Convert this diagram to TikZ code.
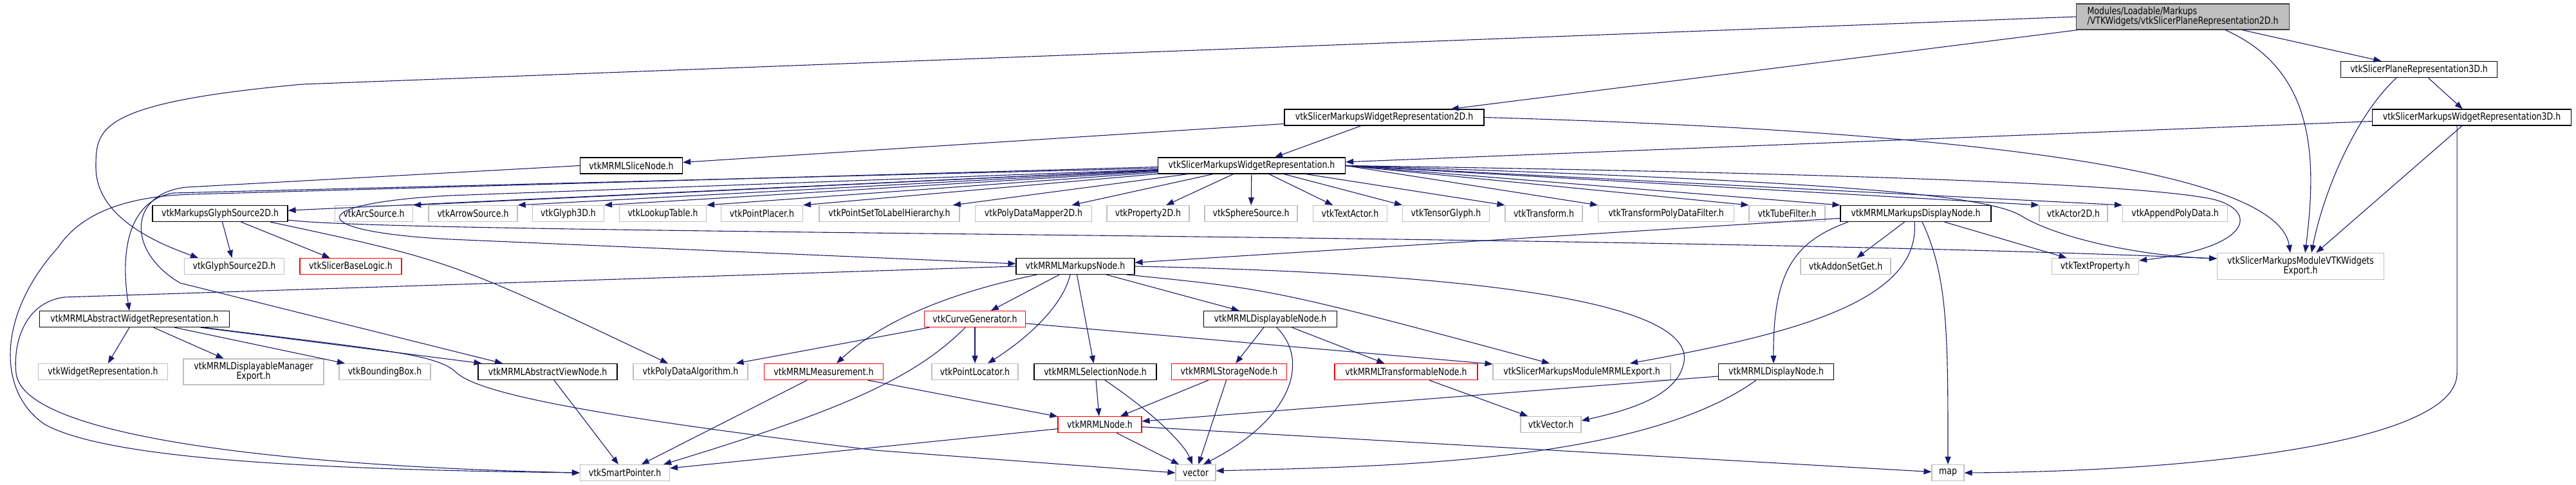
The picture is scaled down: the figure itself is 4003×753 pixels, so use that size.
\documentclass[tikz,border=0pt]{standalone}
\usepackage{fontspec}
\setmainfont{DejaVu Sans}[FakeStretch=0.82]
\usetikzlibrary{arrows.meta}
\definecolor{edgeblue}{HTML}{191970}
\definecolor{extgray}{HTML}{BFBFBF}
\definecolor{topfill}{HTML}{BFBFBF}
\tikzset{
  hdr/.style={draw=black,fill=white,line width=1.2pt,minimum height=25pt,inner sep=0pt,
    font=\fontsize{15.3}{15.5}\selectfont},
  ext/.style={hdr,draw=extgray},
  bad/.style={hdr,draw=red},
  dep/.style={draw=edgeblue,line width=1.1pt,-{Triangle[length=12pt,width=9pt]}},
}

\begin{document}
\begin{tikzpicture}[x=1pt,y=-1pt]
  \useasboundingbox (0,0) rectangle (4003,753);
  % the header itself
  \node[hdr,fill=topfill,draw=black!75,minimum width=331pt,minimum height=40pt,align=left]
    (T) at (3392,26) {Modules/Loadable/Markups\\/VTKWidgets/vtkSlicerPlaneRepresentation2D.h};
  % documented headers
  \foreach \n/\x/\y/\w/\t in {P3D/3759/108/243/vtkSlicerPlaneRepresentation3D.h,
      R2D/2151/182.5/310/vtkSlicerMarkupsWidgetRepresentation2D.h,
      R3D/3841/182.5/309/vtkSlicerMarkupsWidgetRepresentation3D.h,
      SL/981/257.5/159/vtkMRMLSliceNode.h,
      R/1945/257.5/291/vtkSlicerMarkupsWidgetRepresentation.h,
      GS2/342/332/210/vtkMarkupsGlyphSource2D.h,
      MD/2977/332/234/vtkMRMLMarkupsDisplayNode.h,
      MN/1671/414/184/vtkMRMLMarkupsNode.h,
      AWR/209/496/295/vtkMRMLAbstractWidgetRepresentation.h,
      DN/1974/496/207/vtkMRMLDisplayableNode.h,
      AVN/851/578/216/vtkMRMLAbstractViewNode.h,
      sel/1702/578/190/vtkMRMLSelectionNode.h,
      DPN/2760/578/179/vtkMRMLDisplayNode.h}
    \node[hdr,minimum width=\w pt] (\n) at (\x,\y) {\t};
  % truncated ones
  \foreach \n/\x/\y/\w/\t in {baselogic/545/414/158/vtkSlicerBaseLogic.h,
      curve/1515/496/157/vtkCurveGenerator.h,
      meas/1280/578/185/vtkMRMLMeasurement.h,
      storage/1910/578/179/vtkMRMLStorageNode.h,
      transf/2185/578/222/vtkMRMLTransformableNode.h,
      mnode/1709/660/130/vtkMRMLNode.h}
    \node[bad,minimum width=\w pt] (\n) at (\x,\y) {\t};
  % external headers
  \foreach \n/\x/\y/\w/\t in {arc/581/332/121/vtkArcSource.h,
      arrow/735/332/138/vtkArrowSource.h,
      glyph3d/883/332/111/vtkGlyph3D.h,
      lut/1030/332/135/vtkLookupTable.h,
      placer/1184/332/127/vtkPointPlacer.h,
      labelh/1382/332/218/vtkPointSetToLabelHierarchy.h,
      mapper2d/1606/332/181/vtkPolyDataMapper2D.h,
      prop2d/1784/332/128/vtkProperty2D.h,
      sphere/1944/332/144/vtkSphereSource.h,
      textactor/2098/332/115/vtkTextActor.h,
      tensor/2247/332/135/vtkTensorGlyph.h,
      transform/2399/332/120/vtkTransform.h,
      tpdf/2589/332/211/vtkTransformPolyDataFilter.h,
      tube/2777/332/118/vtkTubeFilter.h,
      actor2d/3222/332/106/vtkActor2D.h,
      append/3380/332/163/vtkAppendPolyData.h,
      gsrc/364/414/155/vtkGlyphSource2D.h,
      addon/2868/414/140/vtkAddonSetGet.h,
      textprop/3256/414/135/vtkTextProperty.h,
      widgetrep/160/578/201/vtkWidgetRepresentation.h,
      bbox/598/578/142/vtkBoundingBox.h,
      pda/1073/578/178/vtkPolyDataAlgorithm.h,
      locator/1515/578/134/vtkPointLocator.h,
      mrmlexp/2458/578/276/vtkSlicerMarkupsModuleMRMLExport.h,
      vec/2410/660/94/vtkVector.h,
      sp/971/735/139/vtkSmartPointer.h,
      vector/1858/735/62/vector,
      map/3027/735/50/map}
    \node[ext,minimum width=\w pt] (\n) at (\x,\y) {\t};
  \node[ext,minimum width=259pt,minimum height=41pt,align=center] (VE) at (3575,414)
    {vtkSlicerMarkupsModuleVTKWidgets\\Export.h};
  \node[ext,minimum width=218pt,minimum height=40pt,align=center] (dmexport) at (394,578)
    {vtkMRMLDisplayableManager\\Export.h};

  % top levels
  \draw[dep] (T) -- (P3D);
  \draw[dep] (T) -- (R2D);
  \draw[dep] ([xshift=66pt]T.south) .. controls (3600,110) and (3600,250) .. ([xshift=7pt]VE.north);
  \draw[dep] (T.west) -- (470,131) .. controls (150,160) and (149,200) .. (149,260)
    .. controls (149,340) and (250,380) .. ([xshift=-56pt]gsrc.north);
  \draw[dep] (P3D) -- (R3D);
  \draw[dep] ([xshift=-35pt]P3D.south) .. controls (3660,180) and (3610,300) .. ([xshift=17pt]VE.north);
  \draw[dep] (R3D) -- (R);
  \draw[dep] (R3D) -- (VE);
  \draw[dep] ([xshift=-23pt]R3D.south) -- ++(0,385) .. controls ++(0,110) and (3400,733) .. (map.east);
  \draw[dep] (R2D) -- (R);
  \draw[dep] (R2D) -- (SL);
  \draw[dep] (R2D.east) .. controls (3100,205) and (3540,270) .. ([xshift=-16pt]VE.north);

  % vtkSlicerMarkupsWidgetRepresentation.h
  \foreach \m in {arc,arrow,glyph3d,lut,placer} \draw[dep] (R) -- (\m.north east);
  \foreach \m in {labelh,mapper2d,prop2d,sphere,textactor} \draw[dep] (R) -- (\m);
  \foreach \m in {tensor,transform} \draw[dep] (R) -- (\m.north west);
  \foreach \m in {tpdf,tube,MD,actor2d,append} \draw[dep] (R.east) -- (\m.north west);
  \draw[dep] (R) -- (GS2);
  \draw[dep] (R.east) .. controls (2800,268) and (3330,285) .. (3440,310)
    .. controls (3510,328) and (3500,385) .. ([yshift=9pt]textprop.east);
  \draw[dep] (R.east) .. controls (2800,280) and (3080,300) .. (3140,335)
    .. controls (3200,372) and (3330,398) .. ([yshift=12pt]VE.west);
  \draw[dep] ([yshift=-4pt]R.west) -- (270,300) .. controls (205,310) and (185,380) .. ([xshift=-8pt]AWR.north);
  \draw[dep] ([yshift=-6pt]R.west) -- (700,304) .. controls (470,316) and (470,360) .. (700,372)
    -- ([yshift=4pt]MN.west);
  \draw[dep] ([yshift=-2pt]R.west) -- (300,302) .. controls (180,305) and (120,340) .. (90,385)
    .. controls (-5,490) and (-5,610) .. (70,660) .. controls (170,715) and (500,730) .. (sp.west);
  \draw[dep] (SL.west) -- (290,291) .. controls (200,300) and (195,390) .. (280,440)
    -- ([xshift=-70pt]AVN.north);

  % glyph source
  \draw[dep] (GS2) -- (gsrc);
  \draw[dep] (GS2) -- (baselogic);
  \draw[dep] ([xshift=78pt]GS2.south) .. controls (700,405) .. ([xshift=-35pt]pda.north);
  \draw[dep] ([yshift=-10pt]GS2.east) .. controls (620,365) and (2500,362) .. ([yshift=12pt]VE.west);

  % abstract widget representation
  \draw[dep] (AWR) -- (widgetrep);
  \draw[dep] (AWR) -- (dmexport);
  \draw[dep] (AWR) -- (bbox);
  \draw[dep] (AWR) -- (AVN);
  \draw[dep] ([xshift=108pt]AWR.south) .. controls (600,545) and (680,550) .. (710,580)
    .. controls (750,615) and (950,650) .. (1360,700) -- (vector.west);
  \draw[dep] (AVN) -- (sp);

  % markups node
  \draw[dep] (MN) -- (curve);
  \draw[dep] ([xshift=-8pt]MN.south) .. controls (1650,480) and (1590,530) .. ([xshift=20pt]locator.north);
  \draw[dep] (MN) -- (sel);
  \draw[dep] (MN) -- (DN);
  \draw[dep] ([xshift=-60pt]MN.south) .. controls (1500,450) and (1380,490) .. ([xshift=20pt]meas.north);
  \draw[dep] ([xshift=80pt]MN.south) .. controls (1980,450) .. ([xshift=-50pt]mrmlexp.north);
  \draw[dep] (MN.east) .. controls (2300,425) and (2650,470) .. (2615,570)
    .. controls (2600,620) and (2520,640) .. ([yshift=6pt]vec.east);
  \draw[dep] (MN.west) -- (100,462) .. controls (40,470) and (20,530) .. (25,580)
    .. controls (35,680) and (450,725) .. (sp.west);

  % curve generator, measurement, mrml nodes
  \draw[dep] (curve) -- (pda);
  \draw[dep] (curve) -- (locator);
  \draw[dep] ([xshift=-15pt]curve.south) .. controls (1420,590) and (1300,640) .. ([xshift=-10pt]sp.north east);
  \draw[dep] (curve) -- (mrmlexp);
  \draw[dep] (meas) -- (sp);
  \draw[dep] (meas) -- (mnode);
  \draw[dep] (sel) -- (mnode);
  \draw[dep] ([xshift=15pt]sel.south) .. controls (1790,640) and (1840,690) .. ([xshift=-5pt]vector.north);
  \draw[dep] (storage) -- (mnode);
  \draw[dep] (storage) -- (vector);
  \draw[dep] (DN) -- (storage);
  \draw[dep] (DN) -- (transf);
  \draw[dep] ([xshift=10pt]DN.south) .. controls (2035,560) and (2010,650) .. ([xshift=12pt]vector.north);
  \draw[dep] (transf) -- (vec);
  \draw[dep] (DPN) -- (mnode);
  \draw[dep] ([xshift=-31pt]DPN.south) .. controls (2550,720) and (2150,725) .. ([yshift=3pt]vector.east);
  \draw[dep] (mnode) -- (vector);
  \draw[dep] (mnode) -- (sp);
  \draw[dep] (mnode) -- (map);

  % markups display node
  \draw[dep] (MD) -- (MN);
  \draw[dep] ([xshift=-105pt]MD.south) .. controls (2790,375) and (2755,420) .. ([xshift=-4pt]DPN.north);
  \draw[dep] (MD) -- (addon);
  \draw[dep] (MD) -- (textprop);
  \draw[dep] ([xshift=-2pt]MD.south) .. controls (2985,470) and (2780,520) .. ([xshift=75pt]mrmlexp.north);
  \draw[dep] ([xshift=10pt]MD.south) .. controls (3027,430) and (3027,520) .. (map.north);
\end{tikzpicture}
\end{document}
